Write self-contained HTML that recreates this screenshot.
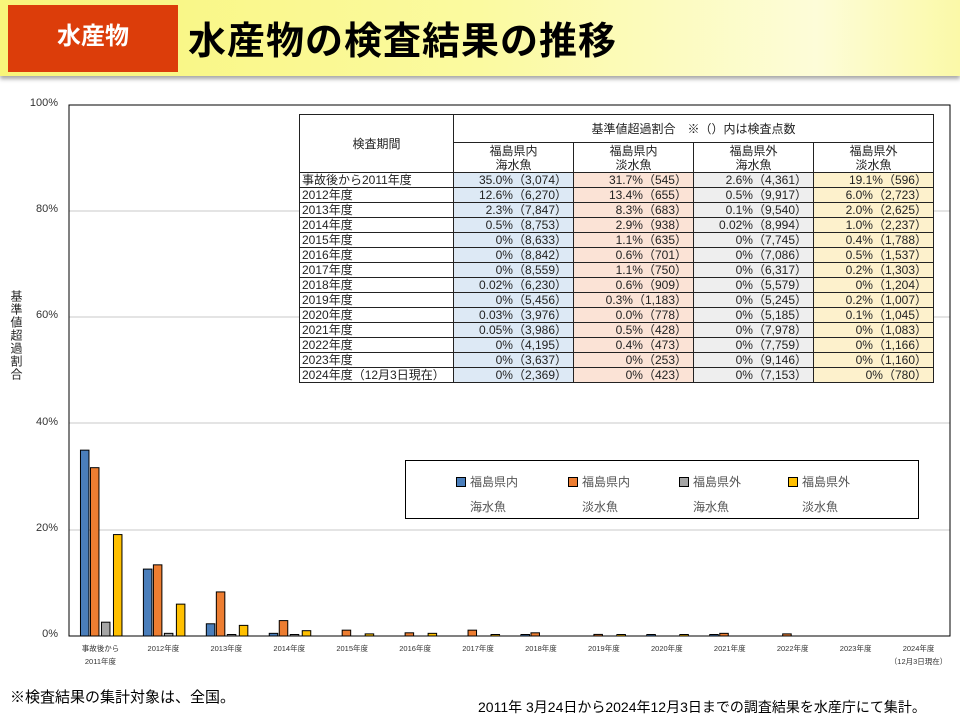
<!DOCTYPE html>
<html><head><meta charset="utf-8"><style>
body{margin:0;width:960px;height:720px;background:#fff;position:relative;overflow:hidden;font-family:"Liberation Sans","Noto Sans CJK JP",sans-serif}
.band{position:absolute;left:0;top:0;width:960px;height:76px;background:linear-gradient(90deg,#f8f57a 0%,#fbfaa0 50%,#fdfcd8 85%,#fbf9a8 100%);box-shadow:0 3px 4px rgba(0,0,0,.35)}
.red{position:absolute;left:8px;top:5px;width:170px;height:67px;background:#dc3d0a;color:#fff;font-weight:bold;font-size:24px;text-align:center;line-height:64px}
.title{position:absolute;left:188px;top:10px;font-size:38px;font-weight:bold;color:#000;letter-spacing:1px}
table{position:absolute;left:299px;top:114px;border-collapse:collapse;font-size:12px;color:#222}
td{border:1px solid #222;padding:0 6px;height:14px;line-height:14px;white-space:nowrap;box-sizing:border-box}
.h td{text-align:center;padding:0}
td.l{text-align:left;padding-left:2px;background:#fff}
td.b{background:#dde9f5;text-align:right}td.o{background:#fbe3d6;text-align:right}td.g{background:#eeeeee;text-align:right}td.y{background:#fdf1cc;text-align:right}
.yl{position:absolute;left:8px;top:290px;writing-mode:vertical-rl;font-size:12px;color:#222;letter-spacing:1px}
.tk{position:absolute;left:20px;width:38px;text-align:right;font-size:11px;color:#333}
.legend{position:absolute;left:405px;top:460px;width:512px;height:57px;border:1px solid #000;background:#fff;font-size:12px;color:#555}
.li{position:absolute;top:12px;width:110px}
.sq{display:inline-block;width:8px;height:8px;border:1px solid #000;margin-right:4px;vertical-align:-1px}
.foot1{position:absolute;left:10px;top:686px;font-size:15px;color:#000}
.foot2{position:absolute;left:478px;top:697px;font-size:14px;color:#000}
</style></head><body>
<div class="band"></div>
<div class="red">水産物</div>
<div class="title">水産物の検査結果の推移</div>
<div class="yl">基準値超過割合</div>
<div class="tk" style="top:97px">100%</div>
<div class="tk" style="top:203px">80%</div>
<div class="tk" style="top:309px">60%</div>
<div class="tk" style="top:416px">40%</div>
<div class="tk" style="top:522px">20%</div>
<div class="tk" style="top:628px">0%</div>
<svg id="ch" width="960" height="720" style="position:absolute;left:0;top:0"></svg>
<table>
<tr class="h" style="height:28px"><td rowspan="2" style="height:58px;vertical-align:middle;width:154px">検査期間</td><td colspan="4" style="height:28px">基準値超過割合　※（）内は検査点数</td></tr>
<tr class="h" style="height:30px"><td style="width:120px;height:30px;line-height:14px">福島県内<br>海水魚</td><td style="width:120px;line-height:14px">福島県内<br>淡水魚</td><td style="width:120px;line-height:14px">福島県外<br>海水魚</td><td style="width:120px;line-height:14px">福島県外<br>淡水魚</td></tr>
<tbody id="tb"></tbody>
</table>
<div class="legend">
<div class="li" style="left:50px"><span class="sq" style="background:#4a7ebb"></span>福島県内<br><span style="display:block;margin:8px 0 0 14px">海水魚</span></div>
<div class="li" style="left:162px"><span class="sq" style="background:#ed7d31"></span>福島県内<br><span style="display:block;margin:8px 0 0 14px">淡水魚</span></div>
<div class="li" style="left:273px"><span class="sq" style="background:#a5a5a5"></span>福島県外<br><span style="display:block;margin:8px 0 0 14px">海水魚</span></div>
<div class="li" style="left:382px"><span class="sq" style="background:#ffc000"></span>福島県外<br><span style="display:block;margin:8px 0 0 14px">淡水魚</span></div>
</div>
<div class="foot1">※検査結果の集計対象は、全国。</div>
<div class="foot2">2011年 3月24日から2024年12月3日までの調査結果を水産庁にて集計。</div>
<script>
var rows=[["事故後から2011年度","35.0% (3,074)","31.7% (545)","2.6% (4,361)","19.1% (596)"],
["2012年度","12.6% (6,270)","13.4% (655)","0.5% (9,917)","6.0% (2,723)"],
["2013年度","2.3% (7,847)","8.3% (683)","0.1% (9,540)","2.0% (2,625)"],
["2014年度","0.5% (8,753)","2.9% (938)","0.02% (8,994)","1.0% (2,237)"],
["2015年度","0% (8,633)","1.1% (635)","0% (7,745)","0.4% (1,788)"],
["2016年度","0% (8,842)","0.6% (701)","0% (7,086)","0.5% (1,537)"],
["2017年度","0% (8,559)","1.1% (750)","0% (6,317)","0.2% (1,303)"],
["2018年度","0.02% (6,230)","0.6% (909)","0% (5,579)","0% (1,204)"],
["2019年度","0% (5,456)","0.3% (1,183)","0% (5,245)","0.2% (1,007)"],
["2020年度","0.03% (3,976)","0.0% (778)","0% (5,185)","0.1% (1,045)"],
["2021年度","0.05% (3,986)","0.5% (428)","0% (7,978)","0% (1,083)"],
["2022年度","0% (4,195)","0.4% (473)","0% (7,759)","0% (1,166)"],
["2023年度","0% (3,637)","0% (253)","0% (9,146)","0% (1,160)"],
["2024年度（12月3日現在）","0% (2,369)","0% (423)","0% (7,153)","0% (780)"]];
var h="",c=["l","b","o","g","y"];
rows.forEach(function(r){h+='<tr style="height:15px">';r.forEach(function(v,i){h+='<td class="'+c[i]+'" style="height:15px">'+v.replace(" (","（").replace(")","）")+"</td>"});h+="</tr>"});
document.getElementById("tb").innerHTML=h;
var s='';
[211,317,423,530].forEach(function(y){s+='<line x1="69" x2="950" y1="'+y+'" y2="'+y+'" stroke="#c8c8c8"/>'});
s+='<rect x="69" y="105" width="881" height="531" fill="none" stroke="#000"/>';
var d=[[35,12.6,2.3,.5,0,0,0,.02,0,.03,.05,0,0,0],[31.7,13.4,8.3,2.9,1.1,.6,1.1,.6,.3,0,.5,.4,0,0],[2.6,.5,.1,.02,0,0,0,0,0,0,0,0,0,0],[19.1,6,2,1,.4,.5,.2,0,.2,.1,0,0,0,0]];
var col=["#4a7ebb","#ed7d31","#a5a5a5","#ffc000"],off=[-20,-10,1,13];
var lab=["2011年度","2012年度","2013年度","2014年度","2015年度","2016年度","2017年度","2018年度","2019年度","2020年度","2021年度","2022年度","2023年度","2024年度"];
for(var i=0;i<14;i++){var cx=69+62.93*(i+.5);
for(var k=0;k<4;k++){var v=d[k][i];var hh=v*5.31;if(v>0&&hh<1.5)hh=1.5;if(v>0)s+='<rect x="'+(cx+off[k])+'" y="'+(636-hh)+'" width="8.5" height="'+hh+'" fill="'+col[k]+'" stroke="#000" stroke-width="1"/>';}
if(i==0){s+='<text x="'+cx+'" y="651" font-size="7.5" text-anchor="middle" fill="#333">事故後から</text><text x="'+cx+'" y="664" font-size="7.5" text-anchor="middle" fill="#333">2011年度</text>';}
else s+='<text x="'+cx+'" y="651" font-size="7.5" text-anchor="middle" fill="#333">'+lab[i]+'</text>';
if(i==13)s+='<text x="'+cx+'" y="664" font-size="7.5" text-anchor="middle" fill="#333">（12月3日現在）</text>';}
document.getElementById("ch").innerHTML=s;
</script>
</body></html>
